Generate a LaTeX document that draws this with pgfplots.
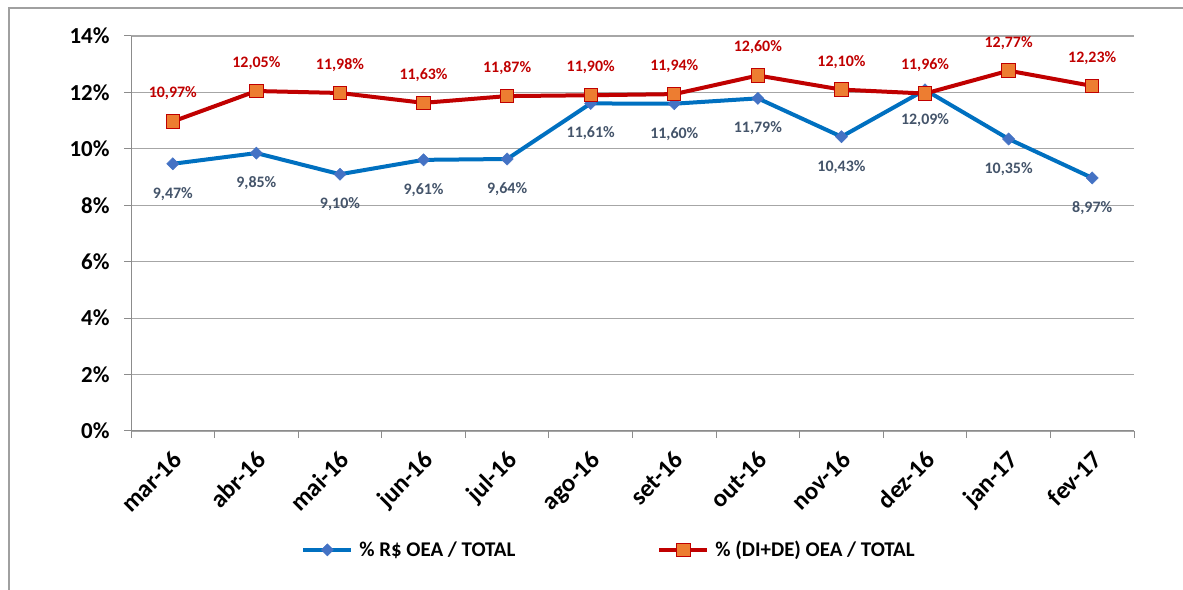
\documentclass[border=0pt]{standalone}
\usepackage{fontspec}
\setmainfont{Carlito}
\usepackage{pgfplots}
\pgfplotsset{compat=1.18}
\definecolor{gridgray}{HTML}{A6A6A6}
\definecolor{axgray}{HTML}{8C8C8C}
\definecolor{framegray}{HTML}{A0A0A0}
\definecolor{blueline}{HTML}{0070C0}
\definecolor{bluemark}{HTML}{4472C4}
\definecolor{redline}{HTML}{C00000}
\definecolor{orangemark}{HTML}{ED7D31}
\definecolor{bluelabel}{HTML}{44546A}
\newcommand\xl{\fontsize{25}{29}\selectfont\bfseries}
\begin{document}
\begin{tikzpicture}
\useasboundingbox (0,0) rectangle (1183bp,590bp);
\draw[framegray, line width=1.5bp] (9bp,-5bp) -- (9bp,582bp) -- (1190bp,582bp);
\begin{axis}[
  at={(131bp,159bp)}, anchor=south west,
  scale only axis, width=1003bp, height=395bp,
  xmin=-0.5, xmax=11.5, ymin=0, ymax=14,
  axis x line=bottom, axis y line=left,
  axis line style={-, axgray, line width=1bp},
  clip=false,
  xtick={-0.5,0.5,...,11.5}, xticklabels={},
  extra x ticks={0,1,...,11},
  extra x tick labels={mar-16,abr-16,mai-16,jun-16,jul-16,ago-16,set-16,out-16,nov-16,dez-16,jan-17,fev-17},
  extra x tick style={major tick length=0pt, grid=none},
  ytick={0,2,...,14},
  yticklabels={0\%,2\%,4\%,6\%,8\%,10\%,12\%,14\%},
  /pgf/number format/assume math mode=true,
  tick align=outside, major tick length=7bp,
  tick style={axgray, line width=1bp},
  ymajorgrids, grid style={gridgray, line width=1.2bp},
  yticklabel style={font=\fontsize{23}{27}\selectfont\bfseries, anchor=east, xshift=-11bp},
  xticklabel style={font=\xl, rotate=45, anchor=north east, inner sep=2bp, xshift=-12bp, yshift=-10bp},
  legend columns=2,
  legend style={at={(0.4766,-0.301)}, anchor=center, draw=none, fill=none,
    font=\fontsize{21}{25}\selectfont\bfseries,
    /tikz/every odd column/.append style={column sep=4bp},
    /tikz/every even column/.append style={column sep=140bp}},
  legend image code/.code={\draw[mark repeat=2,mark phase=2,#1] plot coordinates {(0bp,0bp) (24bp,0bp) (48bp,0bp)};},
]
\addplot[blueline, line width=4bp, mark=square*, mark size=4.3bp,
  mark options={rotate=45, fill=bluemark, draw=bluemark, line width=0.5bp},
  point meta=explicit symbolic, nodes near coords,
  every node near coord/.append style={font=\fontsize{16}{19}\selectfont\bfseries, text=bluelabel, anchor=center, yshift=-30bp}]
coordinates {
(0,9.47) [9,47\%]
(1,9.85) [9,85\%]
(2,9.10) [9,10\%]
(3,9.61) [9,61\%]
(4,9.64) [9,64\%]
(5,11.61) [11,61\%]
(6,11.60) [11,60\%]
(7,11.79) [11,79\%]
(8,10.43) [10,43\%]
(9,12.09) [12,09\%]
(10,10.35) [10,35\%]
(11,8.97) [8,97\%]
};
\addlegendentry{\% R\$ OEA / TOTAL}
\addplot[redline, line width=4bp, mark=square*, mark size=6.7bp,
  mark options={fill=orangemark, draw=redline, line width=1bp},
  point meta=explicit symbolic, nodes near coords,
  every node near coord/.append style={font=\fontsize{16}{19}\selectfont\bfseries, text=redline, anchor=center, yshift=28bp}]
coordinates {
(0,10.97) [10,97\%]
(1,12.05) [12,05\%]
(2,11.98) [11,98\%]
(3,11.63) [11,63\%]
(4,11.87) [11,87\%]
(5,11.90) [11,90\%]
(6,11.94) [11,94\%]
(7,12.60) [12,60\%]
(8,12.10) [12,10\%]
(9,11.96) [11,96\%]
(10,12.77) [12,77\%]
(11,12.23) [12,23\%]
};
\addlegendentry{\% (DI+DE) OEA / TOTAL}
\end{axis}
\end{tikzpicture}
\end{document}
